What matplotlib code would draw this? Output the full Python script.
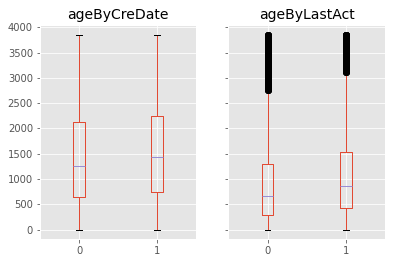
import numpy as np
import matplotlib
matplotlib.use('Agg')
import matplotlib.pyplot as plt

plt.style.use('ggplot')

titles = ['ageByCreDate', 'ageByLastAct']
labels = ['0', '1']

# per panel, per group: whisker low, q1, median, q3, whisker high
cre_stats = [[0, 645, 1263, 2118, 3850],
             [0, 743, 1441, 2243, 3850]]
act_stats = [[0, 289, 664, 1296, 2737],
             [0, 428, 862, 1533, 3099]]
# outliers: continuous band from lowest flier to highest
act_fliers = [[2760, 3850],
              [3120, 3850]]

fig, axes = plt.subplots(1, 2, sharey=True, figsize=(396/72, 260/72), dpi=72)
fig.subplots_adjust(left=0.101, right=0.972, top=0.905, bottom=0.08, wspace=0.204)

def make_stats(rows, fliers=None):
    out = []
    for i, r in enumerate(rows):
        d = dict(whislo=r[0], q1=r[1], med=r[2], q3=r[3], whishi=r[4], label=labels[i])
        if fliers is not None:
            lo, hi = fliers[i]
            d['fliers'] = np.linspace(lo, hi, 300)
        else:
            d['fliers'] = []
        out.append(d)
    return out

red = '#E24A33'
for ax, title, rows, fl in zip(axes, titles, [cre_stats, act_stats], [None, act_fliers]):
    ax.bxp(make_stats(rows, fl), positions=[1, 2], widths=0.15,
           boxprops=dict(color=red, linewidth=1),
           whiskerprops=dict(color=red, linewidth=1),
           capprops=dict(color='black', linewidth=1),
           medianprops=dict(color='#988ED5', linewidth=1),
           flierprops=dict(marker='o', markerfacecolor='black', markeredgecolor='black', markersize=6))
    ax.set_title(title, fontsize=14)
    ax.set_xlim(0.5, 2.5)
    ax.tick_params(labelsize=10)

axes[0].set_yticks(range(0, 4001, 500))
axes[0].set_ylim(-190, 4050)

fig.savefig('out.png', dpi=72)
